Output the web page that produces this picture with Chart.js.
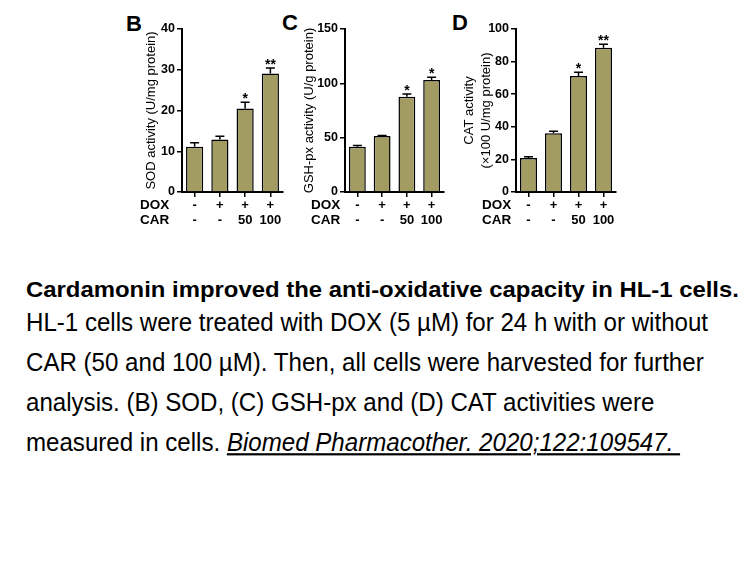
<!DOCTYPE html>
<html>
<head>
<meta charset="utf-8">
<script src="https://cdn.jsdelivr.net/npm/chart.js@4.4.1/dist/chart.umd.min.js"></script>
<style>
  body { margin: 0; background: #fff; }
  #page { position: relative; width: 756px; height: 567px; overflow: hidden; font-family: "Liberation Sans", Arial, sans-serif; }
  canvas { position: absolute; }
  .letter { position: absolute; font-weight: bold; font-size: 22px; line-height: 1; color: #000; }
  .cap { position: absolute; left: 26px; white-space: nowrap; line-height: 1; color: #000; transform-origin: 0 0; }
  .cap.b { font-weight: bold; font-size: 23.9px; transform: scale(1, 0.95); }
  .cap.r { font-size: 24.1px; transform: scale(1, 1.1); }
</style>
</head>
<body>
<div id="page">
  <div class="letter" style="left:126px; top:13px;">B</div>
  <div class="letter" style="left:282px; top:12px;">C</div>
  <div class="letter" style="left:452px; top:12px;">D</div>

  <canvas id="cB" width="170" height="225" style="left:120px; top:10px;"></canvas>
  <canvas id="cC" width="170" height="225" style="left:280px; top:10px;"></canvas>
  <canvas id="cD" width="180" height="225" style="left:440px; top:10px;"></canvas>

  <div class="cap b" style="top:278px;">Cardamonin improved the anti-oxidative capacity in HL-1 cells.</div>
  <div class="cap r" style="top:309px;">HL-1 cells were treated with DOX (5 µM) for 24 h with or without</div>
  <div class="cap r" style="top:349px;">CAR (50 and 100 µM). Then, all cells were harvested for further</div>
  <div class="cap r" style="top:389px;">analysis. (B) SOD, (C) GSH-px and (D) CAT activities were</div>
  <div class="cap r" style="top:429px;">measured in cells. <u><i>Biomed Pharmacother. 2020;122:109547.&nbsp;</i></u></div>
</div>

<script>
// grupos de tratamiento
const doxRow = ['-', '+', '+', '+'];
const carRow = ['-', '-', '50', '100'];

// SOD (U/mg protein)
const sodMean = [11.1, 12.9, 20.5, 29.1];
const sodErr = [1.0, 0.8, 1.5, 1.3];
const sodSig = ['', '', '*', '**'];
const sodTicks = [0, 10, 20, 30, 40];

// GSH-px (U/g protein)
const gshMean = [41.7, 51.5, 87.7, 103.0];
const gshErr = [1.0, 0.5, 2.5, 2.5];
const gshSig = ['', '', '*', '*'];
const gshTicks = [0, 50, 100, 150];

// CAT (x100 U/mg protein)
const catMean = [20.9, 36.0, 71.2, 88.5];
const catErr = [0.8, 1.2, 2.2, 2.1];
const catSig = ['', '', '*', '**'];
const catTicks = [0, 20, 40, 60, 80, 100];

const FONT = '"Liberation Sans", Arial, sans-serif';
const BAR_COLOR = '#a29c63';
const LABEL_LH = 15;
const TICK_LEN = 5;

// barras de error (solo hacia arriba) y asteriscos
const errorBarsPlugin = {
    id: 'errorBars',
    afterDatasetsDraw(chart, args, opts) {
        const ctx = chart.ctx;
        const y = chart.scales.y;
        const meta = chart.getDatasetMeta(0);
        const vals = chart.data.datasets[0].data;
        ctx.save();
        ctx.strokeStyle = '#000';
        ctx.lineWidth = 1.5;
        meta.data.forEach((bar, i) => {
            const yTop = y.getPixelForValue(vals[i]);
            const yCap = y.getPixelForValue(vals[i] + opts.err[i]);
            ctx.beginPath();
            ctx.moveTo(bar.x, yTop);
            ctx.lineTo(bar.x, yCap);
            ctx.moveTo(bar.x - 4.5, yCap);
            ctx.lineTo(bar.x + 4.5, yCap);
            ctx.stroke();
            if (opts.sig[i]) {
                ctx.fillStyle = '#000';
                ctx.font = 'bold 14px ' + FONT;
                ctx.textAlign = 'center';
                ctx.textBaseline = 'alphabetic';
                ctx.fillText(opts.sig[i], bar.x, yCap + 1);
            }
        });
        ctx.restore();
    }
};

// rotulos DOX / CAR a la izquierda de las etiquetas del eje x
const rowLabelsPlugin = {
    id: 'rowLabels',
    afterDraw(chart, args, opts) {
        const ctx = chart.ctx;
        const x = chart.scales.x;
        const y1 = x.top + TICK_LEN + 1 + LABEL_LH / 2;
        ctx.save();
        ctx.fillStyle = '#000';
        ctx.font = 'bold 13.5px ' + FONT;
        ctx.textAlign = 'left';
        ctx.textBaseline = 'middle';
        ctx.fillText('DOX', opts.x, y1);
        ctx.fillText('CAR', opts.x, y1 + LABEL_LH);
        ctx.restore();
    }
};

function crearPanel(id, mean, err, sig, ticks, titulo, cfg) {
    const labels = doxRow.map((d, i) => [d, carRow[i]]);
    new Chart(document.getElementById(id), {
        type: 'bar',
        data: {
            labels: labels,
            datasets: [{
                data: mean,
                backgroundColor: BAR_COLOR,
                borderColor: '#000',
                borderWidth: 1.5,
                barPercentage: 0.68,
                categoryPercentage: 1.0
            }]
        },
        options: {
            responsive: false,
            animation: false,
            devicePixelRatio: 1,
            layout: { padding: { left: 0, top: 19, right: cfg.right, bottom: 0 } },
            plugins: {
                legend: { display: false },
                tooltip: { enabled: false },
                errorBars: { err: err, sig: sig },
                rowLabels: { x: cfg.rowX }
            },
            scales: {
                x: {
                    afterFit: s => { s.height = 43; },
                    grid: { display: true, offset: false, drawOnChartArea: false, drawTicks: true, tickLength: TICK_LEN, color: '#000', lineWidth: 1.5 },
                    border: { display: true, color: '#000', width: 2 },
                    ticks: { color: '#000', padding: 1, maxRotation: 0, autoSkip: false, font: { family: FONT, size: 13, weight: 'bold', lineHeight: LABEL_LH / 13 } }
                },
                y: {
                    min: 0,
                    max: ticks[ticks.length - 1],
                    afterFit: s => { s.width = cfg.yWidth; },
                    afterBuildTicks: s => { s.ticks = ticks.map(v => ({ value: v })); },
                    grid: { drawOnChartArea: false, drawTicks: true, tickLength: TICK_LEN, color: '#000', lineWidth: 1.5 },
                    border: { display: true, color: '#000', width: 2 },
                    ticks: { color: '#000', padding: 2, font: { family: FONT, size: 12.5, weight: 'bold' } },
                    title: {
                        display: true,
                        text: titulo,
                        color: '#000',
                        padding: { top: cfg.titlePad, bottom: 0 },
                        font: { family: FONT, size: 13, lineHeight: 1.3 }
                    }
                }
            }
        },
        plugins: [errorBarsPlugin, rowLabelsPlugin]
    });
}

crearPanel('cB', sodMean, sodErr, sodSig, sodTicks, 'SOD activity (U/mg protein)',
    { yWidth: 62, right: 7, titlePad: 23, rowX: 20 });
crearPanel('cC', gshMean, gshErr, gshSig, gshTicks, 'GSH-px activity (U/g protein)',
    { yWidth: 65, right: 6, titlePad: 20.5, rowX: 31 });
crearPanel('cD', catMean, catErr, catSig, catTicks, ['CAT activity', '(×100 U/mg protein)'],
    { yWidth: 76, right: 4, titlePad: 21, rowX: 42 });
</script>
</body>
</html>
